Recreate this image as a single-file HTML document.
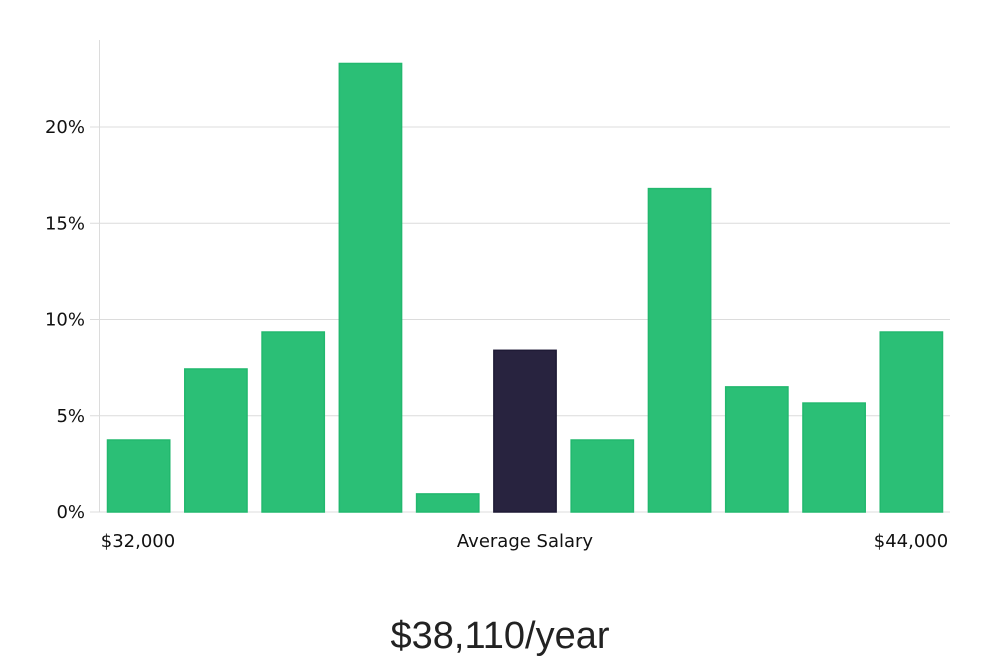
<!DOCTYPE html>
<html><head><meta charset="utf-8"><style>
body{margin:0;background:#fff;width:1000px;height:660px;overflow:hidden}
svg text{font-family:"DejaVu Sans","Liberation Sans",sans-serif;fill:#111}
</style></head><body>
<svg width="1000" height="660">
<g id="grid"></g>
<g id="bars"></g>
<g id="axis"></g>
<text x="138" y="547" text-anchor="middle" font-size="18">$32,000</text>
<text x="525" y="547" text-anchor="middle" font-size="18">Average Salary</text>
<text x="911" y="547" text-anchor="middle" font-size="18">$44,000</text>
<text x="500" y="648" text-anchor="middle" font-size="38" style="font-family:'Liberation Sans',sans-serif;font-weight:300;fill:#222">$38,110/year</text>
</svg>
<script>
const categories=["b1","b2","b3","b4","b5","b6","b7","b8","b9","b10","b11"];
const values=[3.74,7.43,9.35,23.3,0.94,8.4,3.74,16.8,6.5,5.66,9.35];
const highlightIndex=5;
const yTicks=[0,5,10,15,20];
const yTickLabels=["0%","5%","10%","15%","20%"];
const NS="http://www.w3.org/2000/svg";
const x0=100,x1=950,yBase=512,pxPer=19.25;
const y=v=>yBase-v*pxPer;
const band=(x1-x0)/categories.length;
const xb=i=>x0+i*band;
const grid=document.getElementById('grid'),axis=document.getElementById('axis'),bars=document.getElementById('bars');
function mk(tag,attrs,parent){const e=document.createElementNS(NS,tag);for(const k in attrs)e.setAttribute(k,attrs[k]);parent.appendChild(e);return e;}
yTicks.forEach((t,i)=>{
  const l=mk('line',{x1:90,x2:x1,y1:y(t),y2:y(t),stroke:'#dcdcdc','stroke-width':1},grid);
  
  
  const tx=mk('text',{x:85,y:y(t)+6,'text-anchor':'end','font-size':18},axis);
  tx.textContent=yTickLabels[i];
  
  
});
const ax=mk('line',{x1:99.5,x2:99.5,y1:40,y2:yBase,stroke:'#dcdcdc','stroke-width':1},axis);


values.forEach((v,i)=>{
  const hi=i===highlightIndex;
  const r=mk('rect',{x:xb(i)+7.5,y:y(v),width:band-15,height:yBase-y(v),fill:hi?'#28233f':'#2bbf76',stroke:hi?'#1e1a35':'#22b86e','stroke-width':1.5},bars);
  
  
});
</script>
</body></html>
